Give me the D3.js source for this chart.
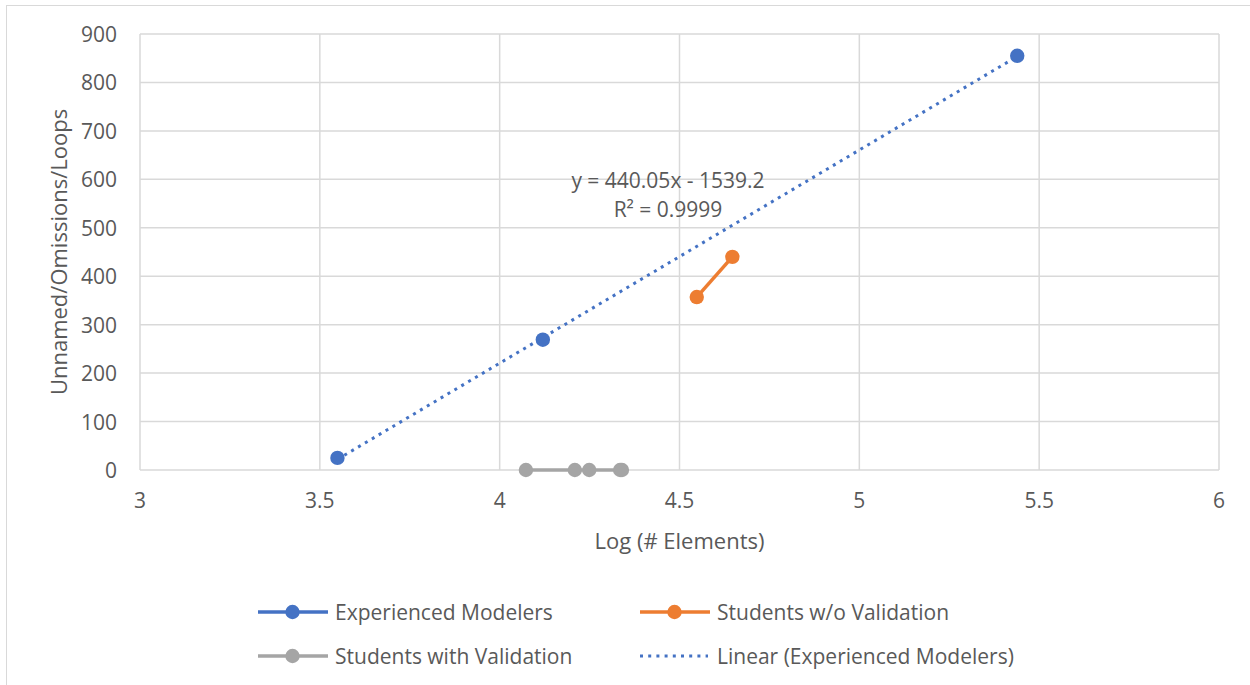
<!DOCTYPE html>
<html>
<head>
<meta charset="utf-8">
<script src="https://cdn.jsdelivr.net/npm/d3@7"></script>
<style>
  body { margin: 0; background: #fff; }
  text { font-family: "Open Sans", sans-serif; fill: #595959; }
</style>
</head>
<body>
<svg id="chart"></svg>
<script>
// data
const experienced = [[3.549, 25], [4.12, 269], [5.439, 855]];
const studentsNoVal = [[4.548, 357], [4.647, 440]];
const studentsVal = [[4.073, 0], [4.209, 0], [4.249, 0], [4.335, 0], [4.34, 0]];
const xTicks = [3, 3.5, 4, 4.5, 5, 5.5, 6];
const yTicks = [0, 100, 200, 300, 400, 500, 600, 700, 800, 900];
const trendLabel = ["y = 440.05x - 1539.2", "R² = 0.9999"];

const legendItems = [
  { name: "Experienced Modelers", color: "#4472C4", type: "line" },
  { name: "Students w/o Validation", color: "#ED7D31", type: "line" },
  { name: "Students with Validation", color: "#A5A5A5", type: "line" },
  { name: "Linear (Experienced Modelers)", color: "#4472C4", type: "dot" }
];

const w = 1250, h = 685;
const fs = 21;
const svg = d3.select("#chart").attr("width", w).attr("height", h);

// outer chart border
svg.append("rect")
  .attr("x", 6.5).attr("y", 5.5)
  .attr("width", w + 20).attr("height", h + 20)
  .attr("fill", "none").attr("stroke", "#d9d9d9").attr("stroke-width", 1);

const x = d3.scaleLinear().domain([3, 6]).range([140, 1219]);
const y = d3.scaleLinear().domain([0, 900]).range([470, 34]);

// gridlines
svg.append("g").selectAll("line").data(xTicks).enter().append("line")
  .attr("x1", d => x(d)).attr("x2", d => x(d))
  .attr("y1", y(0)).attr("y2", y(900))
  .attr("stroke", "#d9d9d9").attr("stroke-width", 1.5);
svg.append("g").selectAll("line").data(yTicks).enter().append("line")
  .attr("x1", x(3)).attr("x2", x(6))
  .attr("y1", d => y(d)).attr("y2", d => y(d))
  .attr("stroke", "#d9d9d9").attr("stroke-width", 1.5);

// tick labels
svg.append("g").selectAll("text").data(yTicks).enter().append("text")
  .attr("x", 117).attr("y", d => y(d) + 8)
  .attr("text-anchor", "end").attr("font-size", fs)
  .text(d => d);
svg.append("g").selectAll("text").data(xTicks).enter().append("text")
  .attr("x", d => x(d)).attr("y", 508)
  .attr("text-anchor", "middle").attr("font-size", fs)
  .text(d => d);

// axis titles
svg.append("text")
  .attr("x", (x(3) + x(6)) / 2).attr("y", 549)
  .attr("text-anchor", "middle").attr("font-size", fs + 1)
  .text("Log (# Elements)");
svg.append("text")
  .attr("transform", `translate(67,${(y(0) + y(900)) / 2}) rotate(-90)`)
  .attr("text-anchor", "middle").attr("font-size", fs + 1)
  .text("Unnamed/Omissions/Loops");

// linear trend (least squares on experienced modelers)
const mx = d3.mean(experienced, d => d[0]);
const my = d3.mean(experienced, d => d[1]);
const slope = d3.sum(experienced, d => (d[0] - mx) * (d[1] - my)) /
  d3.sum(experienced, d => (d[0] - mx) ** 2);
const icpt = my - slope * mx;
const xr = d3.extent(experienced, d => d[0]);
const line = d3.line().x(d => x(d[0])).y(d => y(d[1]));

svg.append("path")
  .attr("d", line(xr.map(v => [v, icpt + slope * v])))
  .attr("fill", "none").attr("stroke", "#4472C4")
  .attr("stroke-width", 3).attr("stroke-dasharray", "3,5");

const series = [
  { data: studentsVal, color: "#A5A5A5" },
  { data: studentsNoVal, color: "#ED7D31" },
  { data: experienced, color: "#4472C4", noLine: true }
];

series.forEach(s => {
  if (!s.noLine) {
    svg.append("path")
      .attr("d", line(s.data))
      .attr("fill", "none").attr("stroke", s.color).attr("stroke-width", 3.5);
  }
  svg.append("g").selectAll("circle").data(s.data).enter().append("circle")
    .attr("cx", d => x(d[0])).attr("cy", d => y(d[1]))
    .attr("r", 7.2).attr("fill", s.color);
});

// trend label
svg.append("g").selectAll("text").data(trendLabel).enter().append("text")
  .attr("x", 668).attr("y", (d, i) => 188 + i * 29)
  .attr("text-anchor", "middle").attr("font-size", fs)
  .text(d => d);

// legend
const legX = [258, 640], legY = [612, 656];
const leg = svg.append("g").selectAll("g").data(legendItems).enter().append("g")
  .attr("transform", (d, i) => `translate(${legX[i % 2]},${legY[Math.floor(i / 2)]})`);
leg.append("line")
  .attr("x1", 0).attr("x2", d => d.type === "dot" ? 68 : 70)
  .attr("stroke", d => d.color)
  .attr("stroke-width", d => d.type === "dot" ? 3 : 3.5)
  .attr("stroke-dasharray", d => d.type === "dot" ? "3,5.2" : null);
leg.filter(d => d.type === "line").append("circle")
  .attr("cx", 34.5).attr("r", 7.2).attr("fill", d => d.color);
leg.append("text")
  .attr("x", 77).attr("y", 8).attr("font-size", fs)
  .text(d => d.name);
</script>
</body>
</html>
